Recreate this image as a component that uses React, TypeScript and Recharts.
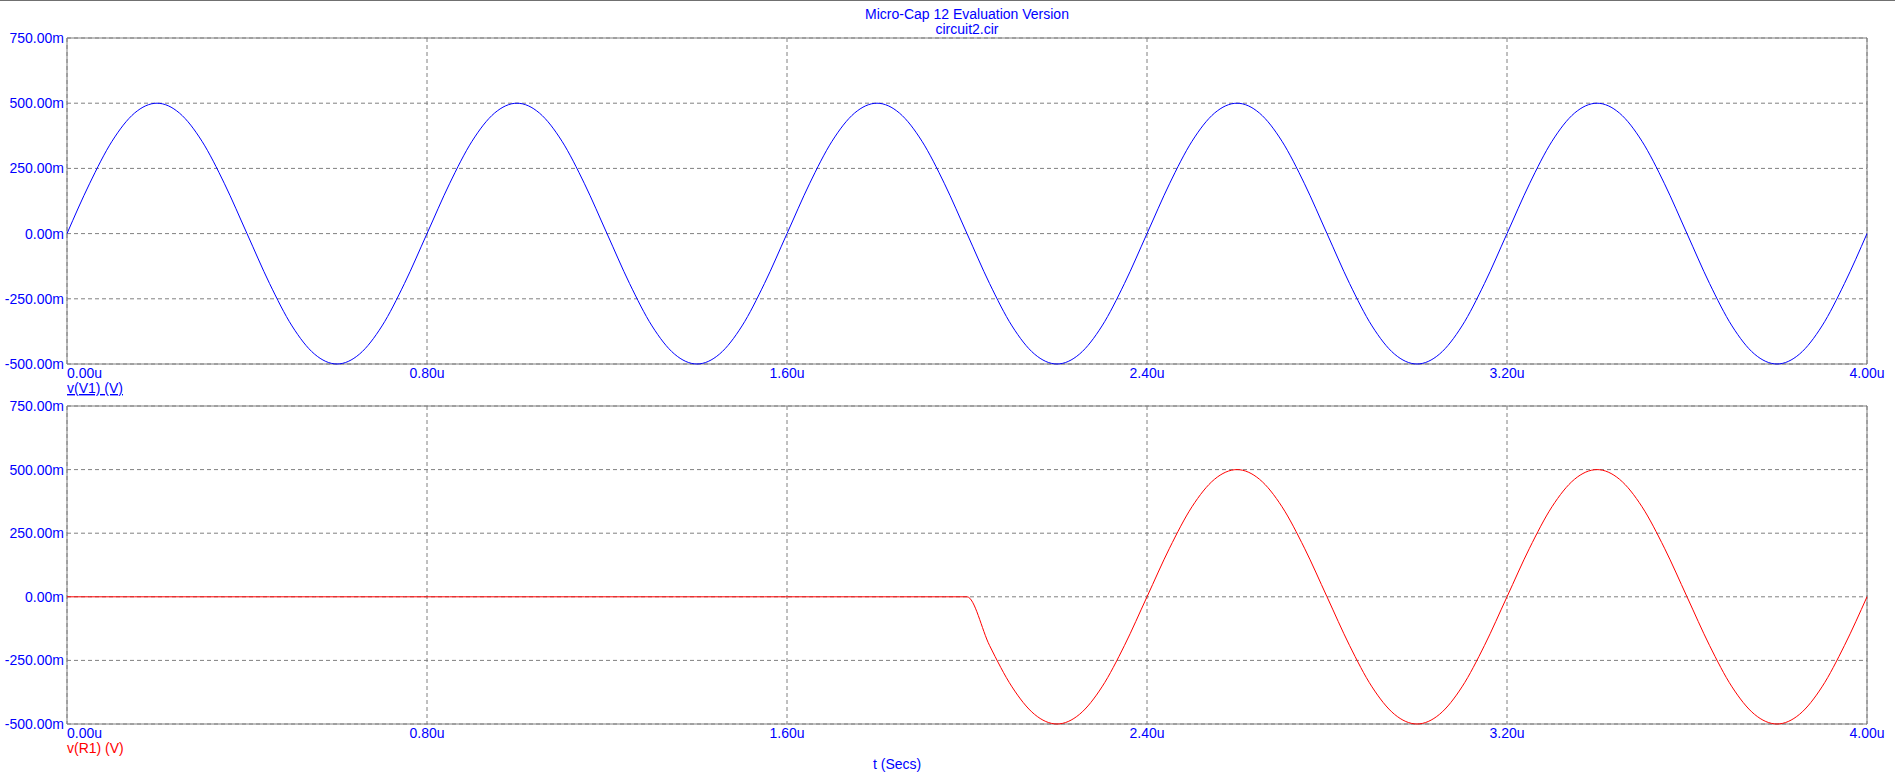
import { LineChart, Line, XAxis, YAxis, CartesianGrid, ReferenceArea } from 'recharts';

const FONT = '"Liberation Sans", Arial, sans-serif';
const BLUE = '#0000ff';
const RED = '#ff0000';
const GRAY = '#808080';

// time in microseconds
const TIME_US = [
    0.00, 0.05, 0.10, 0.15, 0.20, 0.25, 0.30, 0.35, 0.40, 0.45, 0.50, 0.55, 0.60, 0.65, 0.70, 0.75,
    0.80, 0.85, 0.90, 0.95, 1.00, 1.05, 1.10, 1.15, 1.20, 1.25, 1.30, 1.35, 1.40, 1.45, 1.50, 1.55,
    1.60, 1.65, 1.70, 1.75, 1.80, 1.85, 1.90, 1.95, 2.00, 2.05, 2.10, 2.15, 2.20, 2.25, 2.30, 2.35,
    2.40, 2.45, 2.50, 2.55, 2.60, 2.65, 2.70, 2.75, 2.80, 2.85, 2.90, 2.95, 3.00, 3.05, 3.10, 3.15,
    3.20, 3.25, 3.30, 3.35, 3.40, 3.45, 3.50, 3.55, 3.60, 3.65, 3.70, 3.75, 3.80, 3.85, 3.90, 3.95,
    4.00,
];

// v(V1) in volts
const V_V1 = [
    0, 0.191, 0.354, 0.462, 0.5, 0.462, 0.354, 0.191, 0, -0.191, -0.354, -0.462, -0.5, -0.462, -0.354, -0.191,
    0, 0.191, 0.354, 0.462, 0.5, 0.462, 0.354, 0.191, 0, -0.191, -0.354, -0.462, -0.5, -0.462, -0.354, -0.191,
    0, 0.191, 0.354, 0.462, 0.5, 0.462, 0.354, 0.191, 0, -0.191, -0.354, -0.462, -0.5, -0.462, -0.354, -0.191,
    0, 0.191, 0.354, 0.462, 0.5, 0.462, 0.354, 0.191, 0, -0.191, -0.354, -0.462, -0.5, -0.462, -0.354, -0.191,
    0, 0.191, 0.354, 0.462, 0.5, 0.462, 0.354, 0.191, 0, -0.191, -0.354, -0.462, -0.5, -0.462, -0.354, -0.191,
    0,
];

// v(R1) in volts
const V_R1 = [
    0, 0, 0, 0, 0, 0, 0, 0, 0, 0, 0, 0, 0, 0, 0, 0,
    0, 0, 0, 0, 0, 0, 0, 0, 0, 0, 0, 0, 0, 0, 0, 0,
    0, 0, 0, 0, 0, 0, 0, 0, 0, -0.191, -0.354, -0.462, -0.5, -0.462, -0.354, -0.191,
    0, 0.191, 0.354, 0.462, 0.5, 0.462, 0.354, 0.191, 0, -0.191, -0.354, -0.462, -0.5, -0.462, -0.354, -0.191,
    0, 0.191, 0.354, 0.462, 0.5, 0.462, 0.354, 0.191, 0, -0.191, -0.354, -0.462, -0.5, -0.462, -0.354, -0.191,
    0,
];

const X_TICKS = [0, 0.8, 1.6, 2.4, 3.2, 4.0];
const Y_TICKS = [-0.5, -0.25, 0, 0.25, 0.5, 0.75];

const data = TIME_US.map((t, i) => ({ t, v1: V_V1[i], r1: V_R1[i] }));

const fmtY = (v: number) => `${(v * 1000).toFixed(2)}m`;
const fmtX = (v: number) => `${v.toFixed(2)}u`;

function YTick(props: any) {
    const { y, payload } = props;
    return (
        <text x={64} y={y} textAnchor="end" dominantBaseline="central" fill={BLUE} fontSize={14} fontFamily={FONT}>
            {fmtY(payload.value)}
        </text>
    );
}

function makeXTick(baseline: number) {
    return function XTick(props: any) {
        const { x, payload } = props;
        return (
            <text x={x} y={baseline} textAnchor={payload.value === 0 ? 'start' : 'middle'} fill={BLUE} fontSize={14} fontFamily={FONT}>
                {fmtX(payload.value)}
            </text>
        );
    };
}

function Plot({ dataKey, color, height, marginTop, xAxisHeight, baseline }: any) {
    return (
        <LineChart width={1895} height={height} data={data} margin={{ top: marginTop, right: 28, bottom: 0, left: 0 }}>
            <CartesianGrid stroke={GRAY} strokeDasharray="4 3" />
            <XAxis
                dataKey="t" type="number" domain={[0, 4]} ticks={X_TICKS} height={xAxisHeight}
                axisLine={false} tickLine={false} tick={makeXTick(baseline)} interval={0}
            />
            <YAxis
                type="number" domain={[-0.5, 0.75]} ticks={Y_TICKS} width={67}
                axisLine={false} tickLine={false} tick={<YTick />} interval={0}
            />
            <ReferenceArea x1={0} x2={4} y1={-0.5} y2={0.75} fill="none" stroke={GRAY} strokeWidth={1} />
            <Line type="monotone" dataKey={dataKey} stroke={color} strokeWidth={1} dot={false} isAnimationActive={false} />
        </LineChart>
    );
}

export default function App() {
    return (
        <div style={{ position: 'absolute', left: 0, top: 0, width: 1895, height: 778, background: '#fff', overflow: 'hidden' }}>
            <div style={{ position: 'absolute', left: 0, top: 0, width: 1895, height: 1, background: '#707070' }} />
            <div style={{ position: 'absolute', left: 0, top: 0 }}>
                <Plot dataKey="v1" color={BLUE} height={385} marginTop={38} xAxisHeight={21} baseline={378} />
            </div>
            <div style={{ position: 'absolute', left: 0, top: 385 }}>
                <Plot dataKey="r1" color={RED} height={393} marginTop={21} xAxisHeight={54} baseline={353} />
            </div>
            <svg width={1895} height={778} style={{ position: 'absolute', left: 0, top: 0, pointerEvents: 'none' }}>
                <g fontFamily={FONT} fontSize={14}>
                    <text x={967} y={19} textAnchor="middle" fill={BLUE}>Micro-Cap 12 Evaluation Version</text>
                    <text x={967} y={34} textAnchor="middle" fill={BLUE}>circuit2.cir</text>
                    <text x={67} y={393} fill={BLUE} textDecoration="underline">v(V1) (V)</text>
                    <text x={67} y={753} fill={RED}>v(R1) (V)</text>
                    <text x={873} y={769} fill={BLUE}>t (Secs)</text>
                </g>
            </svg>
        </div>
    );
}
